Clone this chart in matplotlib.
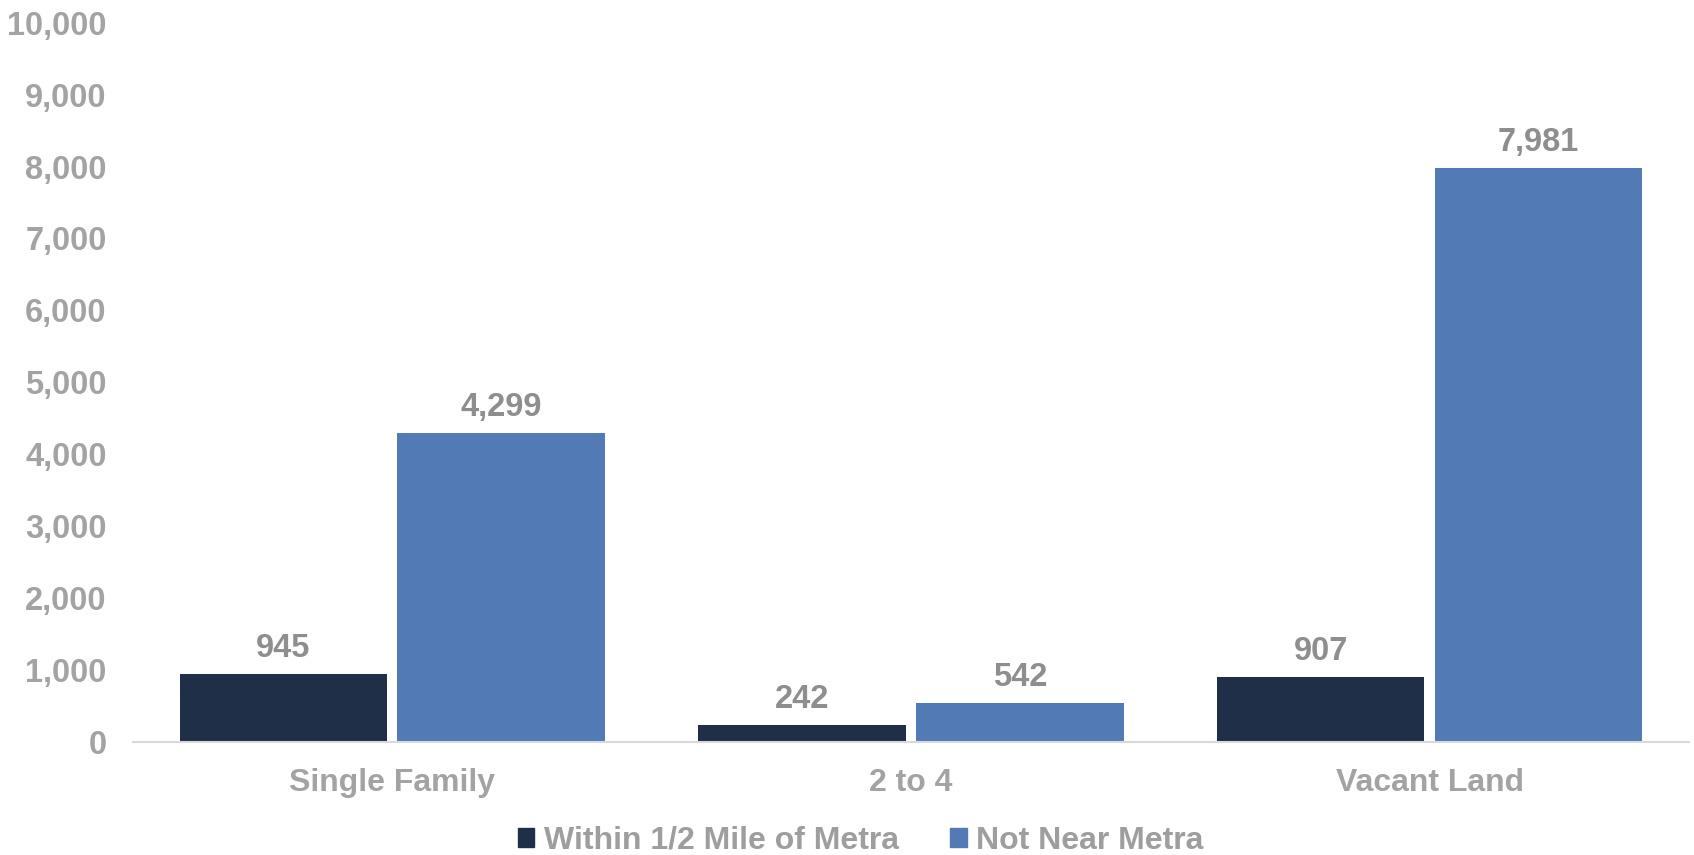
import matplotlib
matplotlib.use("Agg")
import matplotlib.pyplot as plt
import numpy as np
from matplotlib.ticker import FuncFormatter
from matplotlib.patches import Patch

categories = ["Single Family", "2 to 4", "Vacant Land"]
series_names = ["Within 1/2 Mile of Metra", "Not Near Metra"]
within_metra = [945, 242, 907]
not_near_metra = [4299, 542, 7981]
yticks = [0, 1000, 2000, 3000, 4000, 5000, 6000, 7000, 8000, 9000, 10000]

dark = "#202f48"
blue = "#527ab5"
tick_gray = "#a3a3a3"
label_gray = "#8e8e8e"

plt.rcParams['font.family'] = ['Liberation Sans', 'DejaVu Sans']

fig = plt.figure(figsize=(16.94, 8.55), dpi=100)
ax = fig.add_axes([0.0785, 0.1322, 0.997 - 0.0785, 0.9735 - 0.1322])

x = np.arange(len(categories))
w = 0.4
off = 0.21
b1 = ax.bar(x - off, within_metra, width=w, color=dark)
b2 = ax.bar(x + off, not_near_metra, width=w, color=blue)

for bars, vals in ((b1, within_metra), (b2, not_near_metra)):
    for rect, v in zip(bars, vals):
        ax.annotate(f"{v:,}", (rect.get_x() + rect.get_width() / 2, v),
                    xytext=(0, 7), textcoords="offset points",
                    ha="center", va="bottom", fontsize=23.5, fontweight="bold",
                    color=label_gray)

ax.set_xlim(-0.5, 2.5)
ax.set_ylim(0, 10000)
ax.set_yticks(yticks)
ax.yaxis.set_major_formatter(FuncFormatter(lambda v, p: f"{int(v):,}"))
ax.set_xticks(x)
ax.set_xticklabels(categories)

for s in ("top", "right", "left"):
    ax.spines[s].set_visible(False)
ax.spines["bottom"].set_color("#d9d9d9")
ax.spines["bottom"].set_linewidth(1.5)

ax.tick_params(axis="y", length=0, pad=19, labelsize=23.5, labelcolor=tick_gray)
ax.tick_params(axis="x", length=0, pad=19, labelsize=23, labelcolor=tick_gray)
for lab in ax.get_xticklabels() + ax.get_yticklabels():
    lab.set_fontweight("bold")

handles = [Patch(color=dark), Patch(color=blue)]
leg = fig.legend(handles, series_names, loc="center", bbox_to_anchor=(0.508, 0.0165),
                 ncol=2, frameon=False, fontsize=23, handlelength=0.52, handleheight=0.52,
                 handletextpad=0.3, columnspacing=1.6, borderaxespad=0)
for t in leg.get_texts():
    t.set_color("#9e9e9e")
    t.set_fontweight("bold")

fig.savefig("out.png", dpi=100)
